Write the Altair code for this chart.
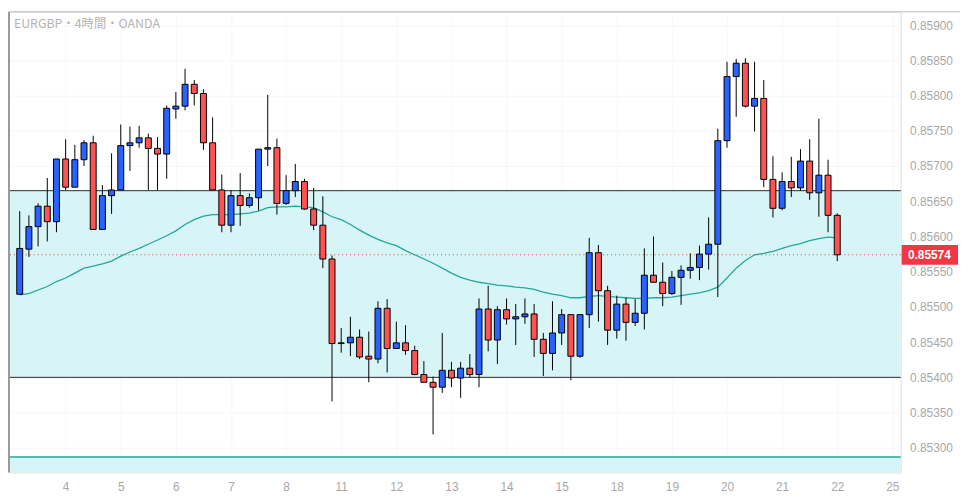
import altair as alt
import pandas as pd

# ---- data (EURGBP 4h, OANDA) ----
opens = [0.85518, 0.85582, 0.85614, 0.85643, 0.85621, 0.85710, 0.85670, 0.85709, 0.85733, 0.85610,
         0.85658, 0.85666, 0.85729, 0.85733, 0.85740, 0.85725, 0.85717, 0.85781, 0.85785, 0.85816,
         0.85803, 0.85733, 0.85666, 0.85616, 0.85658, 0.85644, 0.85655, 0.85724, 0.85726, 0.85647,
         0.85665, 0.85678, 0.85639, 0.85616, 0.85568, 0.85448, 0.85449, 0.85457, 0.85430, 0.85426,
         0.85498, 0.85441, 0.85449, 0.85438, 0.85404, 0.85393, 0.85386, 0.85410, 0.85399, 0.85413,
         0.85404, 0.85497, 0.85453, 0.85496, 0.85483, 0.85486, 0.85490, 0.85454, 0.85434, 0.85463,
         0.85489, 0.85430, 0.85489, 0.85577, 0.85523, 0.85467, 0.85504, 0.85478, 0.85491, 0.85545,
         0.85535, 0.85519, 0.85542, 0.85552, 0.85556, 0.85575, 0.85589, 0.85736, 0.85827, 0.85846,
         0.85785, 0.85796, 0.85681, 0.85640, 0.85678, 0.85669, 0.85707, 0.85662, 0.85687, 0.85630]
highs = [0.85636, 0.85630, 0.85647, 0.85683, 0.85710, 0.85738, 0.85730, 0.85737, 0.85743, 0.85673,
         0.85718, 0.85759, 0.85756, 0.85757, 0.85746, 0.85741, 0.85786, 0.85805, 0.85838, 0.85822,
         0.85809, 0.85769, 0.85688, 0.85666, 0.85690, 0.85661, 0.85724, 0.85801, 0.85739, 0.85687,
         0.85703, 0.85682, 0.85669, 0.85657, 0.85573, 0.85470, 0.85486, 0.85468, 0.85465, 0.85508,
         0.85511, 0.85479, 0.85474, 0.85445, 0.85423, 0.85401, 0.85463, 0.85422, 0.85422, 0.85433,
         0.85512, 0.85530, 0.85501, 0.85512, 0.85504, 0.85512, 0.85504, 0.85463, 0.85508, 0.85497,
         0.85489, 0.85489, 0.85598, 0.85588, 0.85530, 0.85516, 0.85513, 0.85511, 0.85583, 0.85600,
         0.85563, 0.85551, 0.85559, 0.85576, 0.85587, 0.85627, 0.85753, 0.85848, 0.85852, 0.85853,
         0.85848, 0.85822, 0.85714, 0.85691, 0.85713, 0.85724, 0.85738, 0.85767, 0.85709, 0.85633]
lows = [0.85518, 0.85571, 0.85586, 0.85593, 0.85606, 0.85666, 0.85670, 0.85700, 0.85610, 0.85610,
        0.85632, 0.85666, 0.85693, 0.85726, 0.85666, 0.85666, 0.85682, 0.85767, 0.85779, 0.85786,
        0.85723, 0.85666, 0.85606, 0.85606, 0.85615, 0.85641, 0.85637, 0.85700, 0.85631, 0.85645,
        0.85656, 0.85638, 0.85609, 0.85555, 0.85366, 0.85435, 0.85430, 0.85426, 0.85393, 0.85420,
        0.85407, 0.85441, 0.85432, 0.85403, 0.85393, 0.85319, 0.85378, 0.85386, 0.85371, 0.85400,
        0.85386, 0.85437, 0.85419, 0.85475, 0.85446, 0.85476, 0.85429, 0.85402, 0.85410, 0.85446,
        0.85396, 0.85428, 0.85470, 0.85479, 0.85446, 0.85455, 0.85452, 0.85473, 0.85468, 0.85535,
        0.85501, 0.85517, 0.85503, 0.85540, 0.85538, 0.85553, 0.85514, 0.85726, 0.85770, 0.85783,
        0.85749, 0.85670, 0.85627, 0.85637, 0.85656, 0.85665, 0.85652, 0.85628, 0.85606, 0.85565]
closes = [0.85583, 0.85614, 0.85643, 0.85621, 0.85710, 0.85670, 0.85709, 0.85733, 0.85610, 0.85658,
          0.85666, 0.85729, 0.85733, 0.85740, 0.85725, 0.85717, 0.85782, 0.85785, 0.85816, 0.85803,
          0.85733, 0.85666, 0.85616, 0.85658, 0.85644, 0.85655, 0.85724, 0.85726, 0.85647, 0.85665,
          0.85678, 0.85639, 0.85616, 0.85568, 0.85448, 0.85449, 0.85457, 0.85429, 0.85426, 0.85498,
          0.85441, 0.85449, 0.85438, 0.85404, 0.85393, 0.85386, 0.85410, 0.85399, 0.85413, 0.85404,
          0.85497, 0.85453, 0.85496, 0.85483, 0.85486, 0.85490, 0.85454, 0.85434, 0.85463, 0.85489,
          0.85430, 0.85489, 0.85577, 0.85523, 0.85467, 0.85504, 0.85478, 0.85491, 0.85545, 0.85535,
          0.85519, 0.85542, 0.85552, 0.85556, 0.85575, 0.85589, 0.85736, 0.85827, 0.85846, 0.85785,
          0.85796, 0.85681, 0.85640, 0.85678, 0.85669, 0.85707, 0.85662, 0.85687, 0.85630, 0.85574]
ma_values = [0.85517, 0.85519, 0.85524, 0.85529, 0.85536, 0.85541, 0.85548, 0.85555, 0.85558, 0.85561,
             0.85565, 0.85572, 0.85578, 0.85583, 0.85589, 0.85595, 0.85601, 0.85608, 0.85617, 0.85624,
             0.85629, 0.85631, 0.85631, 0.85631, 0.85632, 0.85633, 0.85636, 0.85641, 0.85642, 0.85642,
             0.85643, 0.85642, 0.85641, 0.85635, 0.85628, 0.85624, 0.85617, 0.85609, 0.85602, 0.85596,
             0.85591, 0.85587, 0.85580, 0.85574, 0.85568, 0.85562, 0.85555, 0.85548, 0.85542, 0.85538,
             0.85535, 0.85533, 0.85531, 0.85530, 0.85528, 0.85527, 0.85525, 0.85521, 0.85518, 0.85516,
             0.85513, 0.85513, 0.85515, 0.85516, 0.85515, 0.85514, 0.85513, 0.85512, 0.85512, 0.85513,
             0.85513, 0.85514, 0.85516, 0.85518, 0.85520, 0.85523, 0.85528, 0.85541, 0.85555, 0.85566,
             0.85574, 0.85576, 0.85579, 0.85583, 0.85587, 0.85590, 0.85594, 0.85597, 0.85599, 0.85598]

day_tick_index = [5, 11, 17, 23, 29, 35, 41, 47, 53, 59, 65, 71, 77, 83, 89, 95]
day_tick_labels = ["4", "5", "6", "7", "8", "11", "12", "13", "14", "15", "18", "19", "20", "21", "22", "25"]
price_ticks = [0.85300, 0.85350, 0.85400, 0.85450, 0.85500, 0.85550, 0.85600,
               0.85650, 0.85700, 0.85750, 0.85800, 0.85850, 0.85900]
zone_lows = [0.85400, 0.85265]
zone_highs = [0.85665, 0.85287]
zone_edges = [0.85665, 0.85400]
teal_level = [0.85287]
last_price = [0.85574]
title_text = ["EURGBP・4時間・OANDA"]

W, H = 902, 466
X_DOMAIN = [-0.63, 95.37]
Y_DOMAIN = [0.85265, 0.85919]
BLUE, RED = "#2962FF", "#FF5252"
GREY = "#a8a8a8"

df = pd.DataFrame({
    "idx": list(range(len(opens))),
    "open": opens, "high": highs, "low": lows, "close": closes, "ma": ma_values,
})
df["dir"] = ["up" if c >= o else "down" for o, c in zip(opens, closes)]

label_expr = "{}[indexof({}, datum.value)]".format(
    "[" + ",".join("'%s'" % s for s in day_tick_labels) + "]",
    "[" + ",".join(str(v) for v in day_tick_index) + "]",
)

xscale = alt.Scale(domain=X_DOMAIN, nice=False, zero=False)
yscale = alt.Scale(domain=Y_DOMAIN, nice=False, zero=False)
xaxis = alt.Axis(values=day_tick_index, labelExpr=label_expr, grid=True, gridColor="#f7f7f7",
                 domain=False, ticks=False, labelColor=GREY, labelFontSize=12,
                 labelFont="Liberation Sans", labelPadding=9, labelOverlap=False,
                 labelFlush=False, title=None)
yaxis = alt.Axis(values=price_ticks, format=".5f", orient="right", grid=True, gridColor="#f7f7f7",
                 domain=False, ticks=False, labelColor=GREY, labelFontSize=12,
                 labelFont="Liberation Sans", labelPadding=9, title=None)


def X(field):
    return alt.X(field, scale=xscale, axis=xaxis, title=None)


def Y(field):
    return alt.Y(field, scale=yscale, axis=yaxis, title=None)


zones = alt.Chart(pd.DataFrame({"lo": zone_lows, "hi": zone_highs})).mark_rect(
    color="#D7F4F7").encode(x=alt.value(0), x2=alt.value(W), y=Y("lo:Q"), y2="hi:Q")

edges = alt.Chart(pd.DataFrame({"lvl": zone_edges})).mark_rule(
    color="#2b2b2b", strokeWidth=1).encode(y=Y("lvl:Q"))

teal = alt.Chart(pd.DataFrame({"lvl": teal_level})).mark_rule(
    color="#22A699", strokeWidth=1.5).encode(y=Y("lvl:Q"))

ma_line = alt.Chart(df).mark_line(color="#26A69A", strokeWidth=1.3).encode(
    x=X("idx:Q"), y=Y("ma:Q"))

price_line = alt.Chart(pd.DataFrame({"p": last_price})).mark_rule(
    color="#F23645", strokeDash=[1, 3], strokeWidth=1).encode(y=Y("p:Q"))

wicks = alt.Chart(df).mark_rule(color="#000000", strokeWidth=1).encode(
    x=X("idx:Q"), y=Y("low:Q"), y2="high:Q")

bodies = alt.Chart(df).mark_bar(size=6, stroke="#000000", strokeWidth=1).encode(
    x=X("idx:Q"), y=Y("open:Q"), y2="close:Q",
    color=alt.Color("dir:N", scale=alt.Scale(domain=["up", "down"], range=[BLUE, RED]), legend=None))

title = alt.Chart(pd.DataFrame({"t": title_text})).mark_text(
    align="left", baseline="top", fontSize=12.5, color="#b4b4b4", font="Noto Sans CJK JP").encode(
    x=alt.value(5), y=alt.value(6), text="t:N")

left_border = alt.Chart(pd.DataFrame({"a": [0]})).mark_rule(color="#9a9a9a", strokeWidth=2).encode(
    x=alt.value(0), y=alt.value(0), y2=alt.value(H))
top_border = alt.Chart(pd.DataFrame({"a": [0]})).mark_rule(color="#bdbdbd", strokeWidth=1).encode(
    x=alt.value(0), x2=alt.value(W + 60), y=alt.value(0))

price_box = alt.Chart(pd.DataFrame({"p": last_price})).mark_rect(
    color="#F23645", yOffset=-10, y2Offset=10).encode(
    x=alt.value(W + 1), x2=alt.value(W + 58), y=Y("p:Q"), y2="p:Q")
price_text = alt.Chart(pd.DataFrame({"p": last_price})).mark_text(
    color="white", fontWeight="bold", fontSize=12, font="Liberation Sans",
    align="center", baseline="middle").encode(
    x=alt.value(W + 29), y=Y("p:Q"), text=alt.Text("p:Q", format=".5f"))

chart = alt.layer(
    zones, edges, teal, ma_line, price_line, wicks, bodies, title,
    left_border, top_border, price_box, price_text
).properties(width=W, height=H, padding={"left": 0, "top": 0, "right": 0, "bottom": 0}
).configure_view(stroke=None).configure(background="white")

chart.save("out.html", embed_options={"renderer": "svg", "actions": False})
